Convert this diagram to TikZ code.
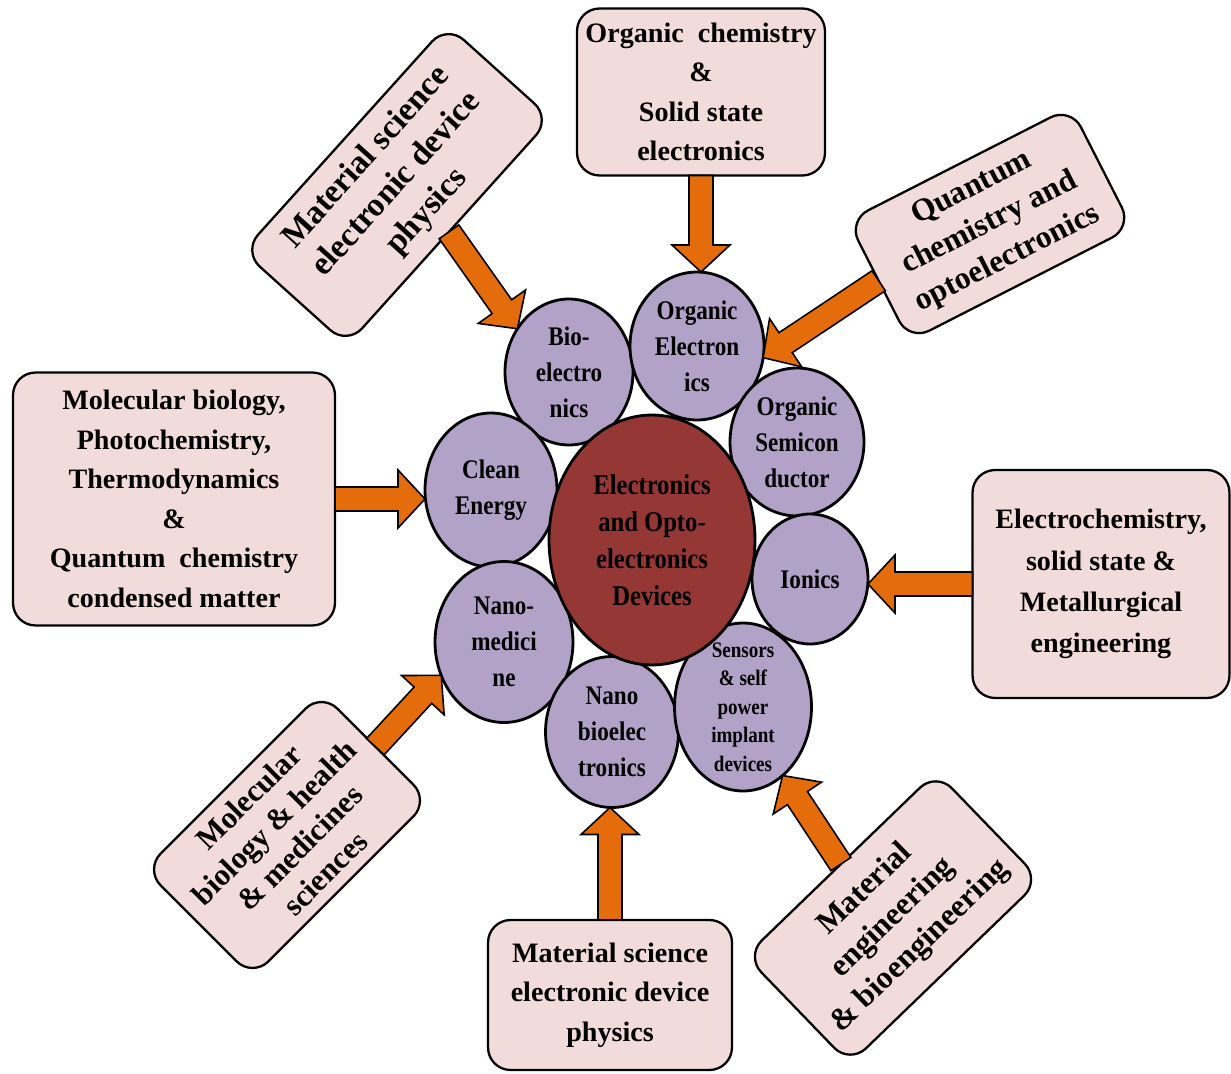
\documentclass[tikz,border=0pt]{standalone}
\usepackage{fontspec}
\setmainfont{Liberation Serif}
\newfontfamily\narrowserif{Liberation Serif}[FakeStretch=0.86]
\usetikzlibrary{calc}
\usetikzlibrary{shapes.geometric}

\definecolor{boxpink}{HTML}{F2DCDB}
\definecolor{lilac}{HTML}{B3A2C7}
\definecolor{devred}{HTML}{953735}
\definecolor{arroworange}{HTML}{E46C0A}

\begin{document}
\begin{tikzpicture}[x=0.02cm, y=-0.02cm,
  field/.style={draw, line width=1.3pt, fill=boxpink, rounded corners=0.45cm, align=center,
    inner sep=0pt, outer sep=0pt, font=\bfseries\fontsize{16}{22.5}\selectfont},
  tilted/.style={field, font=\bfseries\fontsize{18}{22.5}\selectfont},
  topic/.style={ellipse, draw, line width=1.6pt, fill=lilac, inner sep=-1cm, outer sep=0pt,
    align=center, font=\narrowserif\bfseries\fontsize{15.3}{20.5}\selectfont},
  core/.style={topic, fill=devred, font=\narrowserif\bfseries\fontsize{16.3}{21}\selectfont},
  feed/.style={draw, line width=0.9pt, fill=arroworange, line join=miter}]
\def\fatarrow#1#2{%
  \coordinate (tail) at (#1);%
  \coordinate (tip) at (#2);%
  \coordinate (neck) at ($(tip)!0.54cm!(tail)$);%
  \draw[feed] ($(tail)!0.24cm!90:(tip)$) -- ($(neck)!0.24cm!90:(tip)$) -- ($(neck)!0.58cm!90:(tip)$)
    -- (tip) -- ($(neck)!0.58cm!-90:(tip)$) -- ($(neck)!0.24cm!-90:(tip)$) -- ($(tail)!0.24cm!-90:(tip)$) -- cycle;%
}
\useasboundingbox (0, 0) rectangle (1231, 1074);

\node[topic, minimum width=2.56cm, minimum height=2.92cm] (bio) at (569, 372) {Bio-\\electro\\nics};
\node[topic, minimum width=2.68cm, minimum height=2.96cm] (orgel) at (697, 346) {Organic\\Electron\\ics};
\node[topic, minimum width=2.68cm, minimum height=2.96cm] (orgsc) at (797, 442) {Organic\\Semicon\\ductor};
\node[topic, minimum width=2.32cm, minimum height=2.6cm] (ionics) at (810, 579) {Ionics};
\node[topic, minimum width=2.64cm, minimum height=3.08cm] (clean) at (491, 490) {Clean\\Energy};
\node[topic, minimum width=2.76cm, minimum height=3.22cm] (nanomed) at (504, 642) {Nano-\\medici\\ne};
\node[topic, minimum width=2.66cm, minimum height=3.02cm] (nanobio) at (612, 732) {Nano\\bioelec\\tronics};
\node[topic, minimum width=2.74cm, minimum height=3.36cm,
  font=\narrowserif\bfseries\fontsize{12.6}{16.2}\selectfont] (sensors) at (743, 707)
  {Sensors\\\& self\\power\\implant\\devices};
\node[core, minimum width=4.12cm, minimum height=5.0cm] (dev) at (652, 540)
  {Electronics\\and Opto-\\electronics\\Devices};

\node[field, minimum width=4.96cm, minimum height=3.34cm] (orgchem) at (701, 92)
  {Organic~ chemistry\\\&\\Solid state\\electronics};
\node[field, minimum width=6.44cm, minimum height=5.06cm] (molbio) at (174, 499)
  {Molecular biology,\\Photochemistry,\\Thermodynamics\\\&\\Quantum~ chemistry\\condensed matter};
\node[field, minimum width=5.14cm, minimum height=4.56cm, font=\bfseries\fontsize{16}{23.5}\selectfont] (electro) at (1101, 584)
  {Electrochemistry,\\solid state \&\\Metallurgical\\engineering};
\node[field, minimum width=4.88cm, minimum height=3.0cm] (matsci2) at (610, 995)
  {Material science\\electronic device\\physics};
\node[tilted, rotate=48, minimum width=6.1cm, minimum height=2.8cm,
  font=\bfseries\fontsize{19}{23}\selectfont] (matsci) at (397, 185)
  {Material science\\electronic device\\physics};
\node[tilted, rotate=27, minimum width=5.0cm, minimum height=2.7cm] (quantum) at (990, 224)
  {Quantum\\chemistry and\\optoelectronics};
\node[tilted, rotate=45, minimum width=5.0cm, minimum height=3.05cm,
  font=\bfseries\fontsize{17.5}{20.5}\selectfont] (molbio2) at (287, 835)
  {Molecular\\biology \& health\\\& medicines\\sciences};
\node[tilted, rotate=44, minimum width=5.3cm, minimum height=3.0cm] (mateng) at (893, 918)
  {Material\\engineering\\\& bioengineering};

\fatarrow{orgchem.south}{orgchem.south |- orgel.north}
\fatarrow{matsci.south}{bio.140}
\fatarrow{quantum.west}{orgel.-10}
\fatarrow{molbio.east}{clean.west |- molbio.east}
\fatarrow{electro.west}{ionics.east |- electro.west}
\fatarrow{matsci2.north}{matsci2.north |- nanobio.south}
\fatarrow{molbio2.east}{nanomed.208}
\fatarrow{mateng.north}{sensors.-60}
\end{tikzpicture}
\end{document}
